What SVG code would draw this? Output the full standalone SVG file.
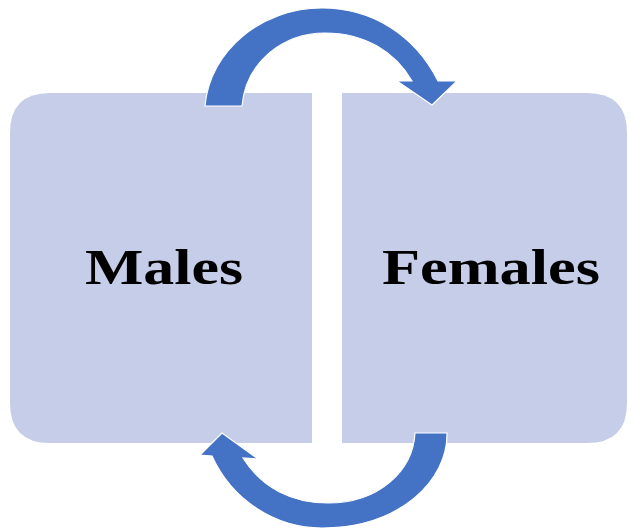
<svg xmlns="http://www.w3.org/2000/svg" width="631" height="531" viewBox="0 0 631 531">
  <style>
    .box { fill: #C6CDE8; }
    .label { font-family: "Liberation Serif", "Times New Roman", serif; font-weight: bold; font-size: 50px; fill: #000000; }
    .arrow { fill: #4472C4; stroke: #FFFFFF; stroke-width: 1.2; stroke-linejoin: miter; }
  </style>
  <rect width="631" height="531" fill="#FFFFFF"/>

  <!-- left box: rounded on the outer (left) side -->
  <g id="males">
    <path class="box" d="M 312,93 L 50,93 Q 10,93 10,133 L 10,403 Q 10,443 50,443 L 312,443 Z"/>
    <text class="label" x="85" y="284" textLength="158" lengthAdjust="spacingAndGlyphs">Males</text>
  </g>

  <!-- right box: rounded on the outer (right) side -->
  <g id="females">
    <path class="box" d="M 342,93 L 587,93 Q 627,93 627,133 L 627,403 Q 627,443 587,443 L 342,443 Z"/>
    <text class="label" x="382" y="284" textLength="218" lengthAdjust="spacingAndGlyphs">Females</text>
  </g>

  <g id="connectors">
    <!-- upper curved arrow: left box to right box -->
    <path class="arrow" d="M 205,106 C 210,50 262,8 322,8 C 372,8 415,35 438,81 L 457,81 L 432,105 L 397,81 L 412,81 C 395,52 365,33 325,33 C 283,33 246,62 242,106 Z"/>
    <!-- lower curved arrow: right box back to left box -->
    <path class="arrow" d="M 447,433 C 448,480 400,528 322,528 C 275,528 232,500 212,456 L 200,455 L 222,433 L 258,459 L 243,458 C 262,488 292,503 328,503 C 380,503 413,470 415,433 Z"/>
  </g>
</svg>
